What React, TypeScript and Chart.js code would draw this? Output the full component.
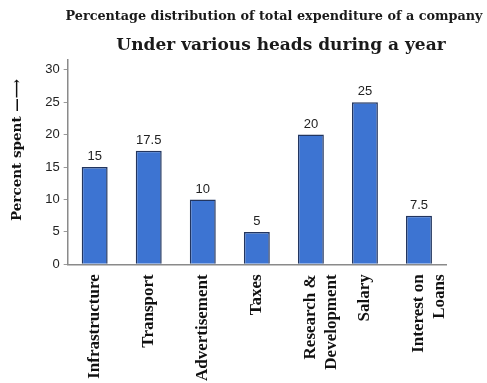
import React, { useEffect, useRef } from 'react';
import { Chart, registerables } from 'chart.js';

Chart.register(...registerables);

const categories: (string | string[])[] = [
  'Infrastructure',
  'Transport',
  'Advertisement',
  'Taxes',
  ['Research &', 'Development'],
  'Salary',
  ['Interest on', 'Loans'],
];
const percentSpent = [15, 17.5, 10, 5, 20, 25, 7.5];
const valueLabels = ['15', '17.5', '10', '5', '20', '25', '7.5'];
const yTicks = [0, 5, 10, 15, 20, 25, 30];
const titleLine1 = 'Percentage distribution of total expenditure of a company';
const titleLine2 = 'Under various heads during a year';
const yAxisTitle = 'Percent spent \u2014\u27F6    ';

const valueLabelPlugin = {
  id: 'valueLabels',
  afterDatasetsDraw(chart: any) {
    const ctx = chart.ctx;
    const meta = chart.getDatasetMeta(0);
    ctx.save();
    ctx.font = '13px "Liberation Sans"';
    ctx.fillStyle = '#222';
    ctx.textAlign = 'center';
    ctx.textBaseline = 'bottom';
    meta.data.forEach((bar: any, i: number) => {
      ctx.fillText(valueLabels[i], bar.x, bar.y - 4);
    });
    ctx.restore();
  },
};

const titlePlugin = {
  id: 'twoLineTitle',
  afterDraw(chart: any) {
    const ctx = chart.ctx;
    ctx.save();
    ctx.fillStyle = '#1a1a1a';
    ctx.textAlign = 'center';
    ctx.textBaseline = 'middle';
    ctx.font = 'bold 12.8px "DejaVu Serif"';
    ctx.fillText(titleLine1, 274, 17);
    ctx.font = 'bold 17px "DejaVu Serif"';
    ctx.fillText(titleLine2, 281, 46);
    ctx.restore();
  },
};

export default function App() {
  const canvasRef = useRef<HTMLCanvasElement | null>(null);

  useEffect(() => {
    if (!canvasRef.current) return;
    const chart = new Chart(canvasRef.current, {
      type: 'bar',
      data: {
        labels: categories,
        datasets: [
          {
            data: percentSpent,
            backgroundColor: '#3d74d2',
            borderColor: '#22355f',
            borderWidth: 1.5,
            barPercentage: 0.48,
            categoryPercentage: 1,
          },
        ],
      },
      options: {
        responsive: false,
        animation: false,
        devicePixelRatio: 1,
        layout: { padding: { top: 60, left: 5, right: 41, bottom: -8 } },
        plugins: {
          legend: { display: false },
          tooltip: { enabled: false },
          title: { display: false },
        },
        scales: {
          x: {
            grid: { display: true, drawOnChartArea: false, drawTicks: false },
            border: { display: true, color: '#8a8a8a', width: 1.5 },
            ticks: {
              autoSkip: false,
              minRotation: 90,
              maxRotation: 90,
              padding: 10,
              color: '#111',
              font: { family: 'Liberation Serif', size: 17, weight: 'bold', lineHeight: 1.2 },
            },
          },
          y: {
            min: 0,
            max: 31.5,
            afterBuildTicks: (axis: any) => {
              axis.ticks = yTicks.map((v) => ({ value: v }));
            },
            grid: { drawOnChartArea: false, drawTicks: true, tickLength: 4, color: '#999' },
            border: { display: true, color: '#8a8a8a', width: 1.5 },
            ticks: {
              padding: 4,
              color: '#222',
              font: { family: 'Liberation Sans', size: 13 },
            },
            title: {
              display: true,
              text: yAxisTitle,
              align: 'end',
              color: '#111',
              font: { family: 'DejaVu Serif', size: 13.5, weight: 'bold' },
              padding: { top: 4, bottom: 16 },
            },
          },
        },
      },
      plugins: [valueLabelPlugin, titlePlugin],
    } as any);
    return () => chart.destroy();
  }, []);

  return (
    <div style={{ position: 'absolute', left: 0, top: 0, width: 487, height: 383, background: '#fff' }}>
      <canvas ref={canvasRef} width={487} height={383} />
    </div>
  );
}
